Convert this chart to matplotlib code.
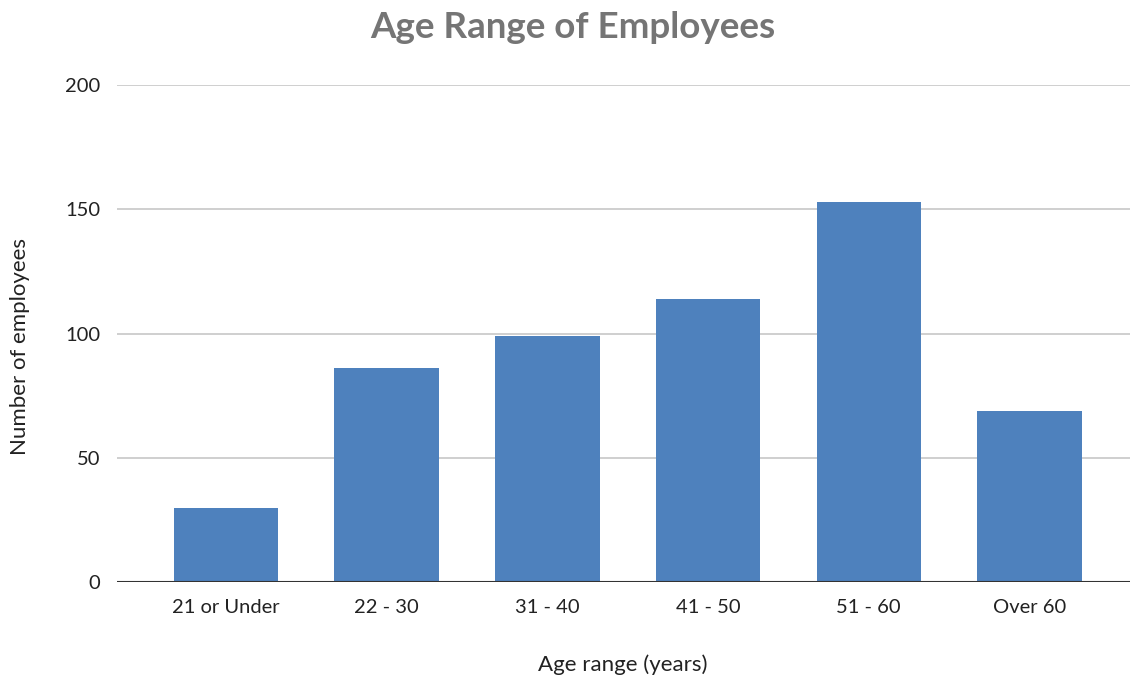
import matplotlib
matplotlib.use("Agg")
import matplotlib.pyplot as plt

categories = ["21 or Under", "22 - 30", "31 - 40", "41 - 50", "51 - 60", "Over 60"]
employees = [30, 86, 99, 114, 153, 69]
y_ticks = [0, 50, 100, 150, 200]

plt.rcParams['font.family'] = ['Lato', 'DejaVu Sans']

fig = plt.figure(figsize=(11.31, 6.84), dpi=100)
ax = fig.add_axes([0.1032, 0.149, 0.8958, 0.7267])

x = list(range(len(categories)))
ax.bar(x, employees, width=0.65, color="#4e81bd", zorder=3)

ax.set_xlim(-0.68, 5.625)
ax.set_ylim(0, 200)
ax.set_yticks(y_ticks)
ax.set_xticks(x)
ax.set_xticklabels(categories)

ax.grid(axis='y', color='#cccccc', linewidth=1.3, zorder=0)
ax.axhline(0, color='#333333', linewidth=1.5, zorder=4)
for s in ax.spines.values():
    s.set_visible(False)
ax.tick_params(axis='both', length=0, labelsize=14.5, colors='#222222')
ax.tick_params(axis='y', pad=12)
ax.tick_params(axis='x', pad=12)

fig.text(0.5508, 1 - 665 / 684, "Age range (years)", ha='center', va='center',
         fontsize=16, color='#222222')
fig.text(20 / 1131, 1 - 346 / 684, "Number of employees", ha='center', va='center',
         rotation=90, fontsize=16, color='#222222')

fig.text(573 / 1131, 1 - 27 / 684, "Age Range of Employees", ha='center', va='center',
         fontsize=26.5, fontweight='bold', color='#757575')

fig.savefig("out.png", dpi=100, facecolor='white')
